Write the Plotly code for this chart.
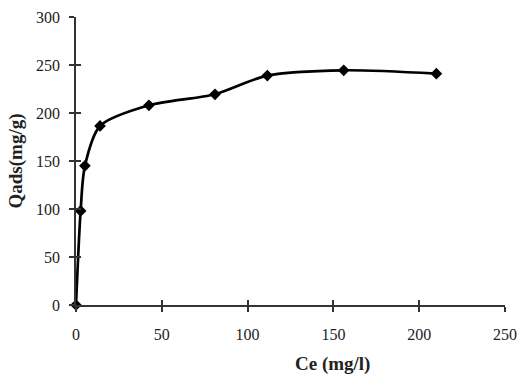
import plotly.graph_objects as go

ce = [0, 2.7, 5.2, 14, 42.5, 81, 111.5, 156, 210]
qads = [0, 98, 145, 186.5, 208, 219.5, 239, 244.5, 241]

x_ticks = [0, 50, 100, 150, 200, 250]
y_ticks = [0, 50, 100, 150, 200, 250, 300]

serif = "Liberation Serif"
font = dict(family=serif, size=16, color="#222")
title_font = dict(family=serif, size=19, color="#222")

fig = go.Figure()
fig.add_trace(go.Scatter(
    x=ce, y=qads, mode="lines+markers",
    line=dict(color="black", width=2.7, shape="spline", smoothing=0.8),
    marker=dict(symbol="diamond", size=9, color="black"),
    cliponaxis=False, showlegend=False,
))

axis_common = dict(showgrid=False, zeroline=False, showline=True,
                   linecolor="#333", linewidth=1.5, tickcolor="#333",
                   tickwidth=1.5, ticklen=5, tickfont=font,
                   ticklabeloverflow="allow")

fig.update_layout(
    width=527, height=382,
    margin=dict(l=76, r=22, t=9, b=77),
    paper_bgcolor="white", plot_bgcolor="white",
    xaxis=dict(range=[0, 250], tickvals=x_ticks, ticks="outside",
               ticklabelstandoff=9, **axis_common),
    yaxis=dict(range=[0, 300], tickvals=y_ticks, ticks="outside",
               ticklabelstandoff=6,
               title=dict(text="<b>Qads(mg/g)</b>", font=title_font, standoff=8),
               **axis_common),
    xaxis2=dict(range=[0, 250], tickvals=x_ticks, ticks="inside", overlaying="x",
                anchor="y", side="bottom", showticklabels=False,
                showgrid=False, zeroline=False, showline=False,
                tickcolor="#333", tickwidth=1.5, ticklen=5),
    yaxis2=dict(range=[0, 300], tickvals=y_ticks, ticks="inside", overlaying="y",
                anchor="x", side="left", showticklabels=False,
                showgrid=False, zeroline=False, showline=False,
                tickcolor="#333", tickwidth=1.5, ticklen=5),
    annotations=[dict(text="<b>Ce (mg/l)</b>", xref="paper", yref="paper",
                      x=0.597, y=-0.205, xanchor="center", yanchor="middle",
                      showarrow=False, font=title_font)],
)
fig.add_trace(go.Scatter(x=[None], y=[None], xaxis="x2", yaxis="y2", showlegend=False, hoverinfo="skip"))

fig.write_html("out.html")
